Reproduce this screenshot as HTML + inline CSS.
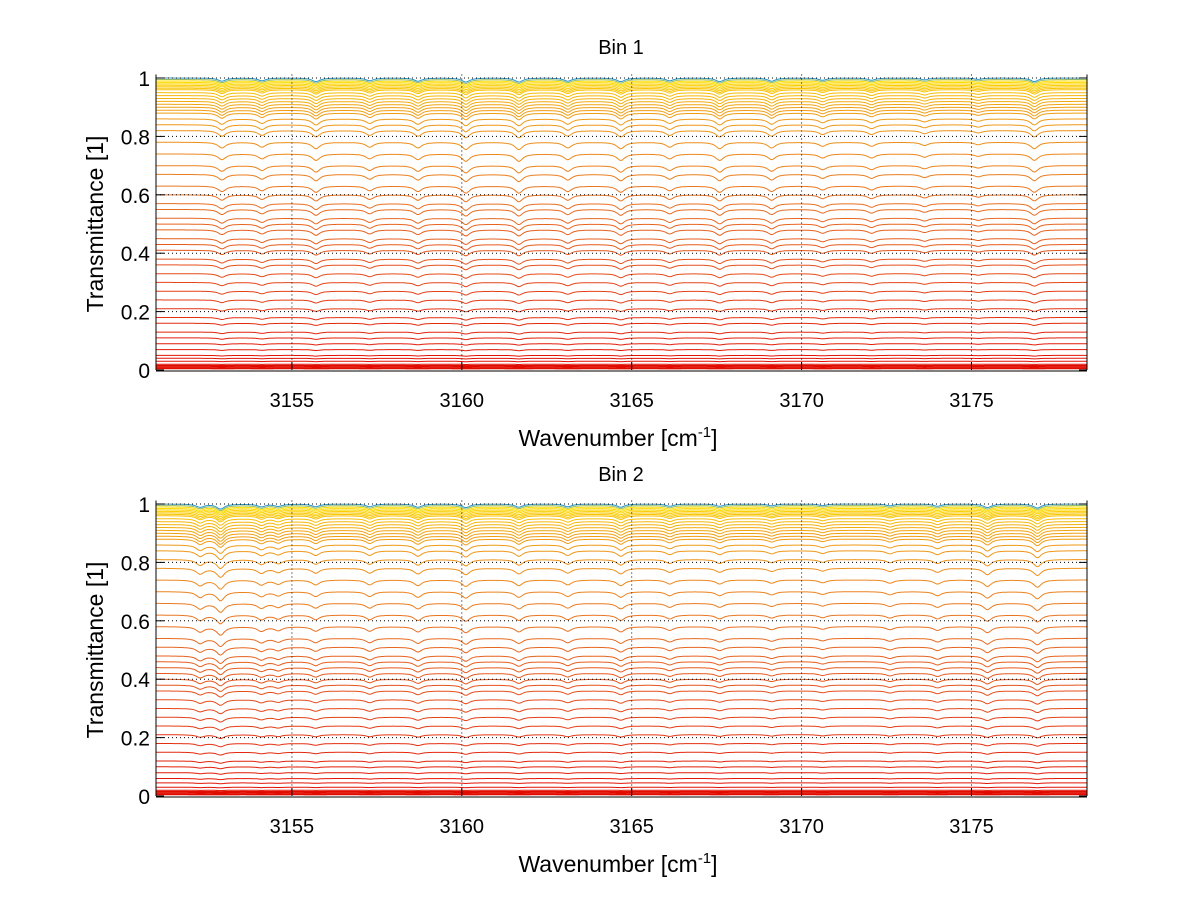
<!DOCTYPE html>
<html><head><meta charset="utf-8"><style>
body{margin:0;background:#fff;}
svg{display:block;font-family:"Liberation Sans",sans-serif;}
</style></head><body>
<svg id="fig" width="1200" height="901" viewBox="0 0 1200 901" xmlns="http://www.w3.org/2000/svg"></svg>
<script>
// ---- data ----
const xTicks = [3155, 3160, 3165, 3170, 3175];
const yTicks = [0, 0.2, 0.4, 0.6, 0.8, 1];
const yTickLabels = ["0", "0.2", "0.4", "0.6", "0.8", "1"];
const linePos1 = [3152.94, 3154.12, 3155.71, 3157.29, 3158.71, 3160.12, 3161.68, 3163.12, 3164.68, 3166.12, 3167.59, 3169.12, 3170.62, 3172.06, 3173.62, 3175.2, 3176.85];
const lineStr1 = [0.7, 0.6, 0.8, 0.6, 0.7, 0.9, 0.9, 0.7, 0.8, 0.6, 0.8, 0.7, 0.5, 0.5, 0.4, 0.3, 0.8];
const linePos2 = [3152.3, 3152.9, 3154.1, 3154.6, 3155.7, 3157.29, 3158.71, 3160.12, 3161.68, 3163.12, 3164.68, 3166.12, 3167.59, 3169.12, 3170.62, 3172.6, 3174.0, 3175.47, 3176.94];
const lineStr2 = [0.7, 1.1, 0.6, 0.5, 0.6, 0.6, 0.7, 0.8, 0.7, 0.6, 0.7, 0.5, 0.5, 0.4, 0.35, 0.4, 0.5, 0.8, 0.9];
const levels1 = [0.005,0.01,0.015,0.02,0.03,0.04,0.05,0.07,0.09,0.11,0.13,0.16,0.18,0.21,0.24,0.27,0.30,0.33,0.36,0.38,0.41,0.43,0.45,0.48,0.50,0.52,0.55,0.57,0.60,0.63,0.67,0.70,0.74,0.78,0.82,0.84,0.86,0.88,0.89,0.90,0.91,0.92,0.93,0.94,0.95,0.96,0.965,0.97,0.975,0.98,0.985,0.99,0.995,1.0];
const levels2 = [0.005,0.01,0.015,0.02,0.03,0.045,0.06,0.08,0.10,0.12,0.15,0.18,0.21,0.24,0.27,0.30,0.33,0.36,0.38,0.40,0.42,0.44,0.46,0.48,0.51,0.54,0.58,0.62,0.66,0.70,0.74,0.78,0.81,0.84,0.86,0.88,0.89,0.90,0.91,0.92,0.93,0.94,0.95,0.96,0.965,0.97,0.975,0.98,0.985,0.99,0.995,1.0];

const NS = "http://www.w3.org/2000/svg";
const svg = document.getElementById("fig");
function mk(tag, attrs, parent){const e=document.createElementNS(NS,tag);for(const k in attrs)e.setAttribute(k,attrs[k]);(parent||svg).appendChild(e);return e;}

function color(t){
  const stops=[[0,[225,10,0]],[0.3,[228,70,25]],[0.6,[232,115,35]],[0.9,[240,160,20]],[0.97,[250,200,0]],[0.99,[255,222,0]],[1.0,[40,150,200]]];
  for(let i=1;i<stops.length;i++){if(t<=stops[i][0]){const a=stops[i-1],b=stops[i];const f=(t-a[0])/(b[0]-a[0]);
    return "rgb("+a[1].map((v,j)=>Math.round(v+(b[1][j]-v)*f)).join(",")+")";}}
  return "rgb(40,150,200)";
}

function panel(name, title, top, zeroY, oneY, pos, str, levels){
  const L=156, R=1087, x0=3151.0, x1=3178.4;
  const sx=v=>L+(v-x0)/(x1-x0)*(R-L);
  const sy=v=>zeroY-(v)*(zeroY-oneY);
  const g=mk("g",{}, svg);
  
  
  const boxTop=sy(1.012);
  const lg=mk("g",{},g);
  
  
  levels.forEach((T0,li)=>{
    let d="";
    for(let w=x0; w<=x1+1e-6; w+=0.04){
      let p=0;
      for(let k=0;k<pos.length;k++){const dx=(w-pos[k])/0.14;p+=str[k]/(1+dx*dx);}
      const dep=0.06*T0*Math.pow(Math.max(1-T0,0.02),0.35)*p;
      const v=Math.max(0,T0-dep);
      d+=(d?"L":"M")+sx(w).toFixed(1)+","+sy(v).toFixed(1);
    }
    const pth=mk("path",{d:d,fill:"none",stroke:color(T0),"stroke-width":T0<0.016?1.5:1},lg);
    
    
  });
  xTicks.forEach(t=>{mk("line",{x1:sx(t),x2:sx(t),y1:boxTop,y2:zeroY,stroke:"#000","stroke-width":1,"stroke-dasharray":"1,3"},g);
    mk("line",{x1:sx(t),x2:sx(t),y1:zeroY,y2:zeroY-8,stroke:"#000"},g);
    const tx=mk("text",{x:sx(t),y:zeroY+37,"text-anchor":"middle","font-size":20},g);tx.textContent=t;
    
    });
  yTicks.forEach((t,i)=>{if(t>0)mk("line",{x1:L,x2:R,y1:sy(t),y2:sy(t),stroke:"#000","stroke-width":1,"stroke-dasharray":"1,3"},g);
    mk("line",{x1:L,x2:L+8,y1:sy(t),y2:sy(t),stroke:"#000"},g);
    mk("line",{x1:R,x2:R-8,y1:sy(t),y2:sy(t),stroke:"#000"},g);
    const tx=mk("text",{x:L-6,y:sy(t)+8,"text-anchor":"end","font-size":21},g);tx.textContent=yTickLabels[i];
    
    });
  mk("line",{x1:L,x2:R,y1:zeroY+1,y2:zeroY+1,stroke:"#000"},g);
  mk("line",{x1:L,x2:L,y1:boxTop,y2:zeroY,stroke:"#000"},g);
  mk("line",{x1:R,x2:R,y1:boxTop,y2:zeroY,stroke:"#000"},g);
  const ti=mk("text",{x:621,y:top,"text-anchor":"middle","font-size":20},g);ti.textContent=title;
  
  
  const yl=mk("text",{x:0,y:0,"text-anchor":"middle","font-size":23,transform:"translate(103,"+((zeroY+oneY)/2)+") rotate(-90)"},g);yl.textContent="Transmittance [1]";
  
  
  const xl=mk("text",{x:618,y:zeroY+76,"text-anchor":"middle","font-size":23},g);
  xl.innerHTML='Wavenumber [cm<tspan dy="-9" font-size="15">-1</tspan><tspan dy="9">]</tspan>';
  
  
}
panel("bin1-chart","Bin 1",54,370,78,linePos1,lineStr1,levels1);
panel("bin2-chart","Bin 2",481,796,504,linePos2,lineStr2,levels2);
</script>
</body></html>
